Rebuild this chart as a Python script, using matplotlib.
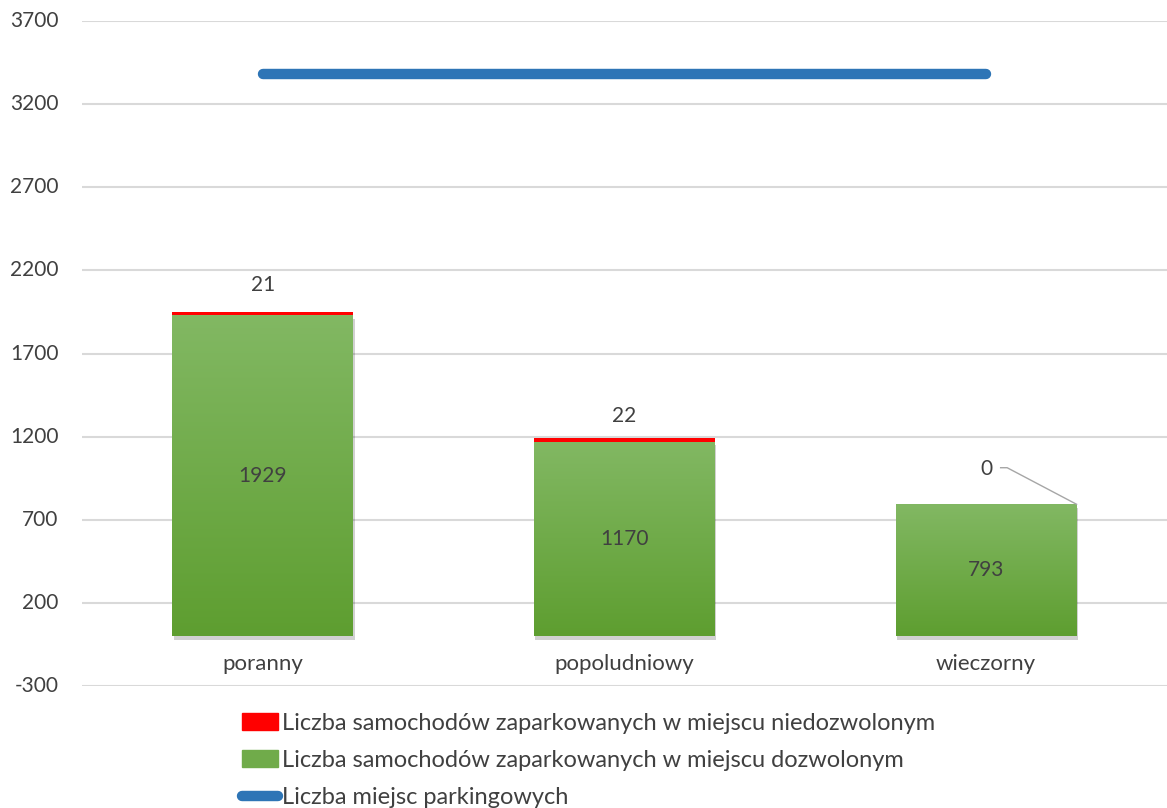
import numpy as np
import matplotlib
matplotlib.use("Agg")
import matplotlib.pyplot as plt
from matplotlib.patches import Patch
from matplotlib.lines import Line2D
from matplotlib import patheffects

plt.rcParams['font.family'] = ['Lato', 'DejaVu Sans']
plt.rcParams['axes.unicode_minus'] = False

# data
categories = ["poranny", "popoludniowy", "wieczorny"]
allowed = [1929, 1170, 793]
illegal = [21, 22, 0]
spaces = [3380, 3380, 3380]

lbl_illegal = "Liczba samochodów zaparkowanych w miejscu niedozwolonym"
lbl_allowed = "Liczba samochodów zaparkowanych w miejscu dozwolonym"
lbl_spaces = "Liczba miejsc parkingowych"

txt = "#404040"
green_top = np.array([0x82, 0xb8, 0x63]) / 255
green_bot = np.array([0x5e, 0x9e, 0x30]) / 255
red = "#ff0000"
blue = "#2e75b6"

fig = plt.figure(figsize=(11.67, 8.08), dpi=100)
ax = fig.add_axes([0.0703, 0.151, 0.9297, 0.823])

x = np.arange(len(categories))
w = 0.5

# green bars with a vertical gradient
grad = np.linspace(0, 1, 256)[:, None]
cols = green_top[None, None, :] * (1 - grad[:, :, None]) + green_bot[None, None, :] * grad[:, :, None]
for i, h in enumerate(allowed):
    shadow = ax.bar(x[i], h, w, color="none", zorder=1.5)
    shadow[0].set_path_effects([patheffects.SimplePatchShadow(offset=(1, -2.5), shadow_rgbFace="#000000", alpha=0.18)])
    ax.bar(x[i], h, w, color=green_bot, zorder=1.6)
    ax.imshow(cols, extent=[x[i] - w / 2, x[i] + w / 2, 0, h], aspect="auto", zorder=2)

ax.bar(x, illegal, w, bottom=allowed, color=red, zorder=2.1)

ax.plot(x, spaces, color=blue, lw=7.5, solid_capstyle="round", zorder=3)

# labels
for i, h in enumerate(allowed):
    ax.text(x[i], h / 2, str(h), ha="center", va="center", fontsize=15, color=txt, zorder=4)

offs = [165, 130, 210]
for i, v in enumerate(illegal):
    top = allowed[i] + v
    ax.text(x[i], top + offs[i], str(v), ha="center", va="center", fontsize=15, color=txt)
    if v == 0:
        ax.plot([x[i] + 0.04, x[i] + 0.058, x[i] + w / 2], [top + offs[i] + 10, top + offs[i] + 10, top],
                color="#a6a6a6", lw=1, zorder=4)

ax.set_xlim(-0.5, 2.5)
ax.set_ylim(-300, 3700)
ax.set_yticks(np.arange(-300, 3701, 500))
ax.set_xticks(x)
ax.set_xticklabels(categories)
ax.spines['bottom'].set_position(('data', 0))
for s in ax.spines.values():
    s.set_visible(False)
ax.tick_params(axis="both", length=0, labelsize=15, labelcolor=txt)
ax.tick_params(axis="y", pad=17)
ax.tick_params(axis="x", pad=13, labelsize=16)
for t in ax.get_yticklabels():
    t.set_verticalalignment("center")
ax.grid(axis="y", color="#d9d9d9", lw=1.5, zorder=0)
ax.set_axisbelow(True)

handles = [Patch(color=red), Patch(color=green_top * 0.5 + green_bot * 0.5),
           Line2D([0], [0], color=blue, lw=7.5, solid_capstyle="round")]
fig.legend(handles, [lbl_illegal, lbl_allowed, lbl_spaces], loc="upper left",
           bbox_to_anchor=(0.207, 0.118), frameon=False, fontsize=17, labelcolor=txt,
           handlelength=1.55, handletextpad=0.15, labelspacing=0.68, borderpad=0, borderaxespad=0)

fig.savefig("out.png", dpi=100)
